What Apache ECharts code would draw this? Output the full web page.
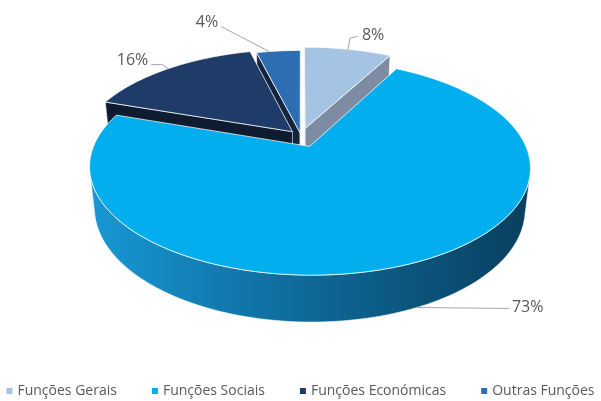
<!DOCTYPE html>
<html>
<head>
<meta charset="utf-8">
<script src="https://cdn.jsdelivr.net/npm/echarts@6/dist/echarts.min.js"></script>
<style>
  html, body { margin: 0; padding: 0; background: #ffffff; }
  #chart { width: 601px; height: 401px; }
</style>
</head>
<body>
<div id="chart"></div>
<script>
// Spending by function group (share of total, %)
const categories = ['Funções Gerais', 'Funções Sociais', 'Funções Económicas', 'Outras Funções'];
const shares = [8, 73, 16, 4];

// Colours: top faces and side walls
const topColors = ['#a5c3e3', '#03aeef', '#1f3b68', '#2d6db1'];
const sideColors = ['#7d8ca2', null, '#0e1b31', '#12243f'];
const socialSideGradient = [
  { offset: 0, color: '#1898d4' },
  { offset: 0.45, color: '#0e6c9e' },
  { offset: 1, color: '#093f5e' }
];

// How far each slice is pulled out from the centre (fraction of radius)
const explode = [0.08, 0.11, 0.06, 0.03];
// Painter's order (back slices first)
const drawOrder = [1, 4, 3, 2];

// Perspective view of the pie disc
const VIEW = { cx: 301, cy: 136, f: 975, dist: 4.6, elev: 28, depth: 0.22 };

// Leader lines and label placement around each slice
const labelLayout = [
  { edge: 'top', shift: 0, path: [[2, -11], [10, -13]], text: [14, -14], align: 'left' },
  { edge: 'bottom', shift: -3, path: [[92, 1]], text: [95, 0], align: 'left' },
  { edge: 'top', shift: 0, path: [[-6, -4], [-17, -4]], text: [-20, -8], align: 'right' },
  { edge: 'top', shift: -3, path: [[-48, -25]], text: [-51, -29], align: 'right' }
];

const total = shares.reduce((a, b) => a + b, 0);
const startShare = shares.map((v, i) => shares.slice(0, i).reduce((a, b) => a + b, 0));

const EL = VIEW.elev * Math.PI / 180;
const COS = Math.cos(EL), SIN = Math.sin(EL);
const CAM = [0, -VIEW.dist * COS, VIEW.dist * SIN];

function project(e, n, z) {
  const d = VIEW.dist + n * COS - z * SIN;
  const u = n * SIN + z * COS;
  return [VIEW.cx + VIEW.f * e / d, VIEW.cy - VIEW.f * u / d];
}

// true when a wall with horizontal normal (ne, nn) through (pe, pn) faces the camera
function facing(pe, pn, ne, nn) {
  return (CAM[0] - pe) * ne + (CAM[1] - pn) * nn > 0;
}

function buildSlice(idx, value) {
  const H = VIEW.depth;
  const t0 = startShare[idx] / total * Math.PI * 2;
  const t1 = (startShare[idx] + value) / total * Math.PI * 2;
  const mid = (t0 + t1) / 2;
  const ex = explode[idx] * Math.sin(mid);
  const en = explode[idx] * Math.cos(mid);
  const steps = Math.max(8, Math.ceil((t1 - t0) / (Math.PI / 120)));

  const top = [], bot = [], ang = [];
  for (let i = 0; i <= steps; i++) {
    const t = t0 + (t1 - t0) * i / steps;
    ang.push(t);
    top.push(project(ex + Math.sin(t), en + Math.cos(t), 0));
    bot.push(project(ex + Math.sin(t), en + Math.cos(t), -H));
  }
  const cTop = project(ex, en, 0);
  const cBot = project(ex, en, -H);

  const edgeStroke = 'rgba(255,255,255,0.75)';
  const children = [];
  const sideFill = idx === 1
    ? new echarts.graphic.LinearGradient(0, 0, 1, 0, socialSideGradient)
    : sideColors[idx];

  // radial walls
  if (facing(ex, en, -Math.cos(t0), Math.sin(t0))) {
    children.push({ type: 'polygon', z2: 1,
      shape: { points: [cTop, top[0], bot[0], cBot] },
      style: { fill: sideColors[idx] || '#0a5a85', stroke: edgeStroke, lineWidth: 0.8 } });
  }
  if (facing(ex, en, Math.cos(t1), -Math.sin(t1))) {
    children.push({ type: 'polygon', z2: 1,
      shape: { points: [cTop, top[steps], bot[steps], cBot] },
      style: { fill: sideColors[idx] || '#0a5a85', stroke: edgeStroke, lineWidth: 0.8 } });
  }

  // outer curved wall, split into runs that face the viewer
  let run = null;
  const runs = [];
  for (let i = 0; i < steps; i++) {
    const tm = (ang[i] + ang[i + 1]) / 2;
    const vis = facing(ex + Math.sin(tm), en + Math.cos(tm), Math.sin(tm), Math.cos(tm));
    if (vis) {
      if (!run) { run = [i, i + 1]; runs.push(run); } else { run[1] = i + 1; }
    } else {
      run = null;
    }
  }
  runs.forEach(r => {
    const pts = top.slice(r[0], r[1] + 1).concat(bot.slice(r[0], r[1] + 1).reverse());
    children.push({ type: 'polygon', z2: 2,
      shape: { points: pts },
      style: { fill: sideFill, stroke: edgeStroke, lineWidth: 0.8 } });
  });

  // top face
  children.push({ type: 'polygon', z2: 3,
    shape: { points: [cTop].concat(top) },
    style: { fill: topColors[idx], stroke: edgeStroke, lineWidth: 1 } });

  // data label with leader line
  const lay = labelLayout[idx];
  const ta = mid + lay.shift * Math.PI / 180;
  const anchor = project(ex + Math.sin(ta), en + Math.cos(ta), lay.edge === 'top' ? 0 : -H);
  const leader = [anchor].concat(lay.path.map(p => [anchor[0] + p[0], anchor[1] + p[1]]));
  children.push({ type: 'polyline', z2: 4,
    shape: { points: leader },
    style: { stroke: '#a6a6a6', lineWidth: 1, fill: null } });
  children.push({ type: 'text', z2: 5,
    style: {
      text: value + '%',
      x: anchor[0] + lay.text[0], y: anchor[1] + lay.text[1],
      fill: '#595959', fontSize: 16, fontFamily: 'Open Sans',
      align: lay.align, verticalAlign: 'middle'
    } });

  return { type: 'group', children };
}

const chart = echarts.init(document.getElementById('chart'), null, { renderer: 'canvas' });
chart.setOption({
  animation: false,
  backgroundColor: '#ffffff',
  legend: {
    data: categories,
    top: 379,
    left: 'center',
    icon: 'rect',
    itemWidth: 6,
    itemHeight: 6,
    itemGap: 35,
    selectedMode: false,
    textStyle: { color: '#595959', fontSize: 14, fontFamily: 'Open Sans' }
  },
  series: categories.map((name, idx) => ({
    type: 'custom',
    name,
    coordinateSystem: 'none',
    z: drawOrder[idx],
    silent: true,
    itemStyle: { color: topColors[idx] },
    data: [{ name, value: shares[idx] }],
    renderItem: (params, api) => buildSlice(idx, api.value(0))
  }))
});
</script>
</body>
</html>
